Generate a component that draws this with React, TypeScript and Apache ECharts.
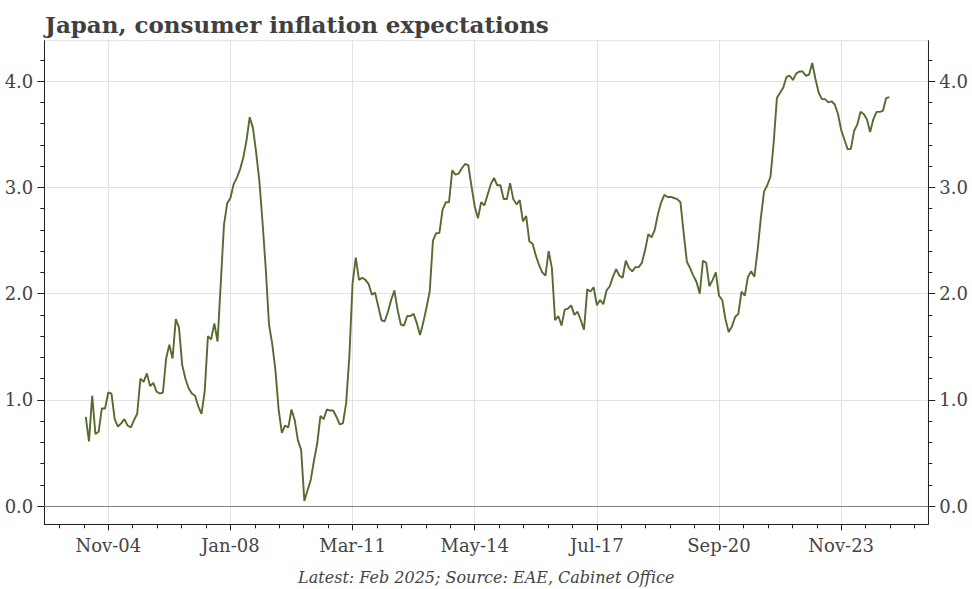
import React, { useEffect, useRef } from "react";
import * as echarts from "echarts";

// Month index = months since Jan 2000; first observation Apr-2004
const START_MONTH_INDEX = 51;
const MONTH_NAMES = ["Jan", "Feb", "Mar", "Apr", "May", "Jun", "Jul", "Aug", "Sep", "Oct", "Nov", "Dec"];

const v2004 = [0.84, 0.61, 1.04, 0.68, 0.70, 0.92, 0.92, 1.07, 1.06];
const v2005 = [0.82, 0.75, 0.78, 0.82, 0.76, 0.74, 0.81, 0.87, 1.20, 1.17, 1.25, 1.13];
const v2006 = [1.16, 1.08, 1.06, 1.07, 1.39, 1.52, 1.39, 1.76, 1.68, 1.33, 1.20, 1.11];
const v2007 = [1.06, 1.04, 0.94, 0.87, 1.08, 1.60, 1.57, 1.72, 1.55, 2.10, 2.65, 2.85];
const v2008 = [2.90, 3.03, 3.09, 3.17, 3.28, 3.44, 3.66, 3.56, 3.33, 3.06, 2.67, 2.23];
const v2009 = [1.71, 1.53, 1.28, 0.91, 0.69, 0.76, 0.74, 0.91, 0.81, 0.62, 0.53, 0.05];
const v2010 = [0.15, 0.25, 0.43, 0.59, 0.85, 0.82, 0.91, 0.90, 0.90, 0.84, 0.77, 0.78];
const v2011 = [0.97, 1.41, 2.10, 2.34, 2.13, 2.15, 2.13, 2.09, 1.99, 2.01, 1.88, 1.75];
const v2012 = [1.74, 1.83, 1.94, 2.03, 1.85, 1.71, 1.70, 1.79, 1.79, 1.81, 1.72, 1.61];
const v2013 = [1.73, 1.87, 2.02, 2.50, 2.57, 2.57, 2.79, 2.86, 2.86, 3.16, 3.12, 3.13];
const v2014 = [3.18, 3.22, 3.21, 3.01, 2.82, 2.71, 2.86, 2.83, 2.93, 3.03, 3.09, 3.02];
const v2015 = [3.02, 2.89, 2.89, 3.04, 2.89, 2.84, 2.88, 2.68, 2.73, 2.49, 2.47, 2.36];
const v2016 = [2.27, 2.20, 2.17, 2.40, 2.24, 1.75, 1.79, 1.70, 1.85, 1.86, 1.89, 1.80];
const v2017 = [1.83, 1.75, 1.66, 2.04, 2.02, 2.06, 1.89, 1.94, 1.90, 2.03, 2.07, 2.16];
const v2018 = [2.23, 2.17, 2.15, 2.31, 2.24, 2.21, 2.25, 2.25, 2.29, 2.41, 2.56, 2.53];
const v2019 = [2.60, 2.75, 2.86, 2.93, 2.91, 2.91, 2.90, 2.89, 2.86, 2.57, 2.30, 2.24];
const v2020 = [2.17, 2.11, 2.00, 2.31, 2.29, 2.07, 2.13, 2.20, 1.98, 1.94, 1.76, 1.64];
const v2021 = [1.69, 1.78, 1.81, 2.02, 1.98, 2.16, 2.21, 2.16, 2.41, 2.71, 2.96, 3.02];
const v2022 = [3.10, 3.42, 3.84, 3.89, 3.94, 4.04, 4.05, 4.01, 4.07, 4.09, 4.09, 4.05];
const v2023 = [4.06, 4.17, 4.02, 3.89, 3.83, 3.83, 3.80, 3.81, 3.78, 3.69, 3.54, 3.45];
const v2024 = [3.36, 3.36, 3.53, 3.59, 3.71, 3.69, 3.64, 3.52, 3.64, 3.71, 3.71, 3.72];
const v2025 = [3.84, 3.85];

// Axis ticks (month indices): Nov-04, Jan-08, Mar-11, May-14, Jul-17, Sep-20, Nov-23
const X_MAJOR_TICKS = [58, 96, 134, 172, 210, 248, 286];
const X_MINOR_PER_MAJOR = 5;
const X_MIN = 38.1;
const X_MAX = 313.1;
const Y_TICKS = [0, 1, 2, 3, 4];
const Y_MIN = -0.17;
const Y_MAX = 4.38;

const TITLE = "Japan, consumer inflation expectations";
const FOOTER = "Latest: Feb 2025; Source: EAE, Cabinet Office";

const FONT = '"DejaVu Serif", serif';
const TEXT_COLOR = "#444444";
const AXIS_COLOR = "#222222";
const GRID_COLOR = "#e2e2e2";
const LINE_COLOR = "#556b2f";

function monthLabel(idx: number): string {
  const i = Math.round(idx);
  const y = Math.floor(i / 12);
  const m = ((i % 12) + 12) % 12;
  return `${MONTH_NAMES[m]}-${String(y).padStart(2, "0")}`;
}

export default function App() {
  const ref = useRef<HTMLDivElement>(null);

  useEffect(() => {
    if (!ref.current) return;
    const chart = echarts.init(ref.current, undefined, { renderer: "svg" });

    const all = [
      ...v2004, ...v2005, ...v2006, ...v2007, ...v2008, ...v2009, ...v2010, ...v2011,
      ...v2012, ...v2013, ...v2014, ...v2015, ...v2016, ...v2017, ...v2018, ...v2019,
      ...v2020, ...v2021, ...v2022, ...v2023, ...v2024, ...v2025,
    ];
    const data = all.map((v, i) => [START_MONTH_INDEX + i, v]);

    const step = X_MAJOR_TICKS[1] - X_MAJOR_TICKS[0];
    const minorStep = step / X_MINOR_PER_MAJOR;
    const minor: number[] = [];
    for (let t = X_MAJOR_TICKS[0] - step; t <= X_MAX + step; t += step) {
      for (let j = 1; j < X_MINOR_PER_MAJOR; j++) {
        const v = +(t + j * minorStep).toFixed(3);
        if (v > X_MIN && v < X_MAX) minor.push(v);
      }
    }

    const tickLine = { color: AXIS_COLOR, width: 1 };
    const labelStyle = { fontFamily: FONT, fontSize: 18, color: TEXT_COLOR };

    const yAxisBase = (pos: "left" | "right", split: boolean) => ({
      type: "value",
      min: Y_MIN,
      max: Y_MAX,
      position: pos,
      axisLine: { show: true, onZero: false, lineStyle: tickLine },
      axisTick: { show: true, length: 7, customValues: Y_TICKS, lineStyle: tickLine },
      minorTick: { show: true, splitNumber: 5, length: 4, lineStyle: tickLine },
      axisLabel: {
        customValues: Y_TICKS,
        margin: 11,
        formatter: (v: number) => v.toFixed(1),
        ...labelStyle,
      },
      splitLine: { show: split, lineStyle: { color: GRID_COLOR, width: 1 } },
    });

    chart.setOption({
      animation: false,
      backgroundColor: "#ffffff",
      grid: {
        left: 44.3,
        right: 43.7,
        top: 40.7,
        bottom: 64.7,
        show: true,
        borderColor: GRID_COLOR,
        borderWidth: 1,
        backgroundColor: "transparent",
      },
      xAxis: [
        {
          type: "value",
          min: X_MIN,
          max: X_MAX,
          position: "bottom",
          axisLine: { show: true, onZero: false, lineStyle: tickLine },
          axisTick: { show: true, length: 6, customValues: X_MAJOR_TICKS, lineStyle: tickLine },
          axisLabel: {
            customValues: X_MAJOR_TICKS,
            margin: 12,
            formatter: (v: number) => monthLabel(v),
            ...labelStyle,
          },
          splitLine: { show: true, lineStyle: { color: GRID_COLOR, width: 1 } },
        },
        {
          type: "value",
          min: X_MIN,
          max: X_MAX,
          position: "bottom",
          axisLine: { show: false, onZero: false },
          axisTick: { show: true, length: 4, customValues: minor, lineStyle: tickLine },
          axisLabel: { show: false },
          splitLine: { show: false },
        },
      ],
      yAxis: [yAxisBase("left", true), yAxisBase("right", false)],
      series: [
        {
          type: "line",
          xAxisIndex: 0,
          yAxisIndex: 0,
          data,
          showSymbol: false,
          symbol: "none",
          lineStyle: { color: LINE_COLOR, width: 1.9 },
          z: 3,
          markLine: {
            silent: true,
            symbol: ["none", "none"],
            label: { show: false },
            lineStyle: { color: "#808080", width: 1, type: "solid" },
            data: [{ yAxis: 0 }],
            z: 2,
          },
        },
      ],
      graphic: [
        {
          type: "text",
          x: 45,
          y: 24,
          style: {
            text: TITLE,
            fontFamily: FONT,
            fontSize: 23,
            fontWeight: "bold",
            fill: "#404040",
            align: "left",
            verticalAlign: "middle",
          },
        },
        {
          type: "text",
          x: 486.3,
          y: 577,
          style: {
            text: FOOTER,
            fontFamily: FONT,
            fontSize: 16,
            fontStyle: "italic",
            fill: TEXT_COLOR,
            align: "center",
            verticalAlign: "middle",
          },
        },
      ],
    });

    return () => chart.dispose();
  }, []);

  return (
    <div
      ref={ref}
      style={{ position: "absolute", left: 0, top: 0, width: 972, height: 589, background: "#fff" }}
    />
  );
}
